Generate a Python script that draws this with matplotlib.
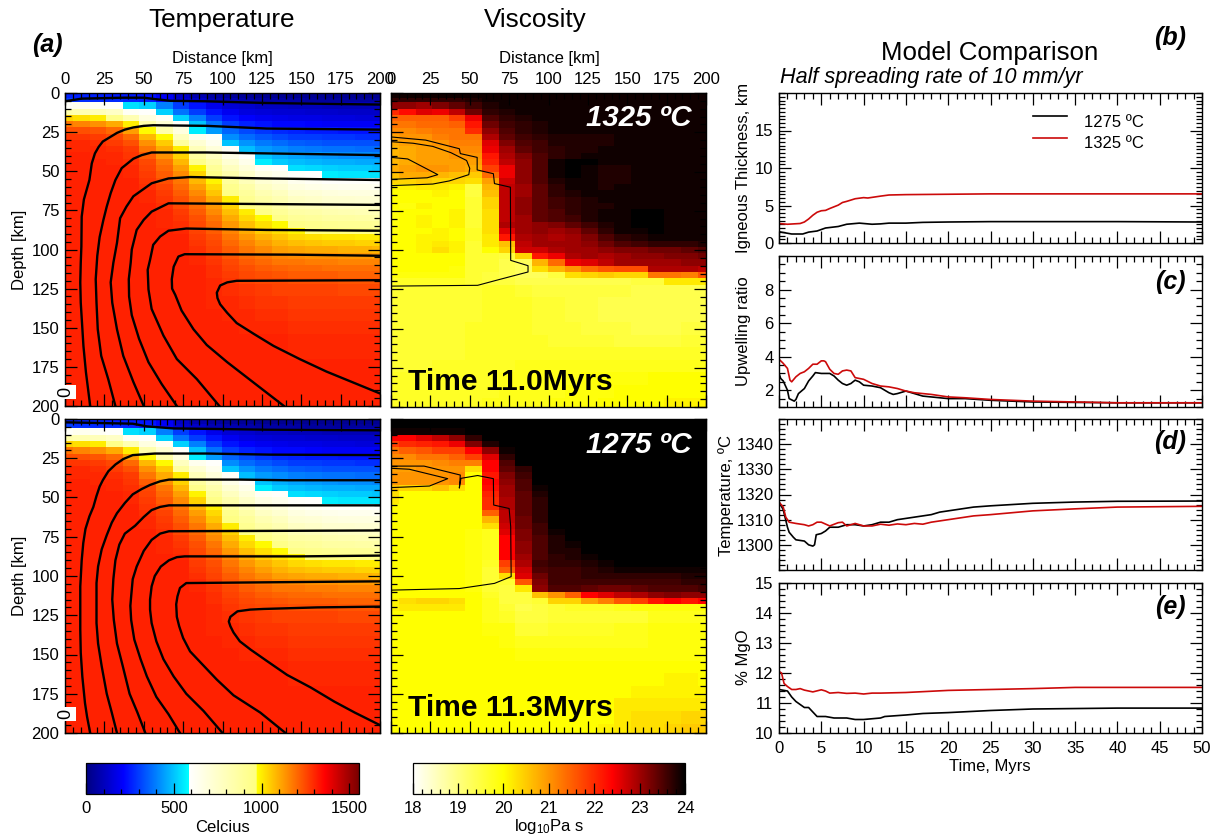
# Import needed libraries.
import numpy as np
import matplotlib
matplotlib.use('Agg')
import matplotlib.pyplot as plt
from matplotlib.cm import ScalarMappable
from matplotlib.colors import LinearSegmentedColormap, Normalize
from matplotlib.ticker import MultipleLocator

plt.rcParams['font.family'] = ['Liberation Sans', 'DejaVu Sans']
plt.rcParams['mathtext.default'] = 'regular'

W, H = 1228, 839
LABEL_SIZE = 12

# Model grid: 20 nodes across, depth rows refined near the surface.
DIST_NODES = [0, 10.5, 21, 31.6, 42, 52.6, 63, 73.7, 84, 94.7, 105, 115.8, 126, 136.8, 147, 157.9, 168.4, 178.9, 189.5, 200]
DEPTH_EDGES = [0, 3, 6, 10, 14, 18, 22, 26, 30, 34, 38, 42, 46, 50, 54, 58, 62, 66, 70, 74, 78, 82, 86, 90, 94, 98,
               102, 106, 110, 114, 118, 122, 130, 138, 146, 154, 162, 170, 178, 186, 194, 200]

# Temperature field, in tens of degrees C.
TEMP_FIELD = [
    [26, 26, 26, 25, 25, 24, 20, 12, 8, 6, 4, 4, 3, 3, 3, 3, 3, 3, 3, 3],
    [30, 28, 27, 27, 26, 25, 20, 14, 12, 9, 8, 7, 6, 6, 6, 5, 5, 5, 5, 5],
    [61, 64, 62, 60, 54, 52, 40, 30, 24, 18, 14, 13, 11, 11, 10, 10, 9, 9, 9, 9],
    [84, 82, 80, 76, 62, 60, 52, 38, 30, 24, 19, 16, 15, 14, 14, 13, 13, 12, 12, 12],
    [104, 102, 100, 94, 82, 68, 62, 52, 40, 30, 24, 21, 19, 18, 17, 17, 16, 16, 15, 15],
    [118, 116, 114, 110, 100, 84, 72, 60, 50, 38, 30, 26, 24, 22, 22, 21, 20, 20, 20, 20],
    [124, 124, 123, 120, 112, 98, 84, 68, 56, 44, 36, 32, 29, 27, 26, 25, 25, 24, 24, 24],
    [128, 128, 127, 125, 120, 108, 98, 78, 64, 60, 42, 37, 34, 32, 30, 30, 29, 29, 28, 28],
    [130, 130, 129, 127, 124, 114, 105, 88, 72, 64, 50, 43, 39, 37, 35, 34, 33, 33, 33, 33],
    [130, 130, 130, 129, 127, 118, 110, 100, 80, 70, 61, 49, 44, 42, 40, 39, 38, 38, 37, 37],
    [131, 131, 130, 130, 128, 122, 114, 104, 88, 78, 66, 60, 50, 47, 45, 44, 43, 42, 42, 41],
    [131, 131, 131, 130, 129, 125, 118, 108, 94, 84, 72, 65, 56, 51, 49, 48, 47, 47, 46, 46],
    [131, 131, 131, 131, 130, 126, 120, 112, 99, 90, 78, 70, 62, 60, 54, 53, 52, 51, 51, 50],
    [131, 131, 131, 131, 130, 127, 122, 115, 104, 95, 84, 75, 67, 64, 60, 59, 56, 55, 55, 55],
    [131, 131, 131, 131, 131, 128, 124, 118, 108, 99, 89, 80, 72, 69, 64, 62, 60, 60, 60, 60],
    [131, 131, 131, 131, 131, 129, 126, 120, 112, 103, 93, 85, 77, 73, 68, 66, 65, 64, 64, 63],
    [131, 131, 131, 131, 131, 130, 127, 122, 115, 106, 96, 89, 82, 78, 72, 71, 69, 68, 68, 68],
    [131, 131, 131, 131, 131, 130, 128, 124, 118, 110, 100, 92, 86, 82, 77, 75, 73, 73, 72, 72],
    [131, 131, 131, 131, 131, 131, 129, 125, 120, 113, 104, 96, 91, 86, 81, 80, 78, 77, 77, 76],
    [131, 131, 131, 131, 131, 131, 130, 127, 122, 115, 107, 100, 95, 90, 86, 85, 83, 82, 81, 81],
    [131, 131, 131, 131, 131, 131, 130, 128, 124, 118, 110, 103, 98, 95, 90, 89, 87, 87, 86, 85],
    [131, 131, 131, 131, 131, 131, 130, 129, 125, 120, 113, 107, 102, 98, 95, 93, 92, 91, 91, 90],
    [131, 131, 131, 131, 131, 131, 131, 130, 126, 122, 116, 110, 105, 102, 99, 97, 97, 96, 96, 95],
    [131, 131, 131, 131, 131, 131, 131, 131, 127, 124, 118, 113, 109, 106, 103, 102, 101, 101, 100, 100],
    [131, 131, 131, 131, 131, 131, 131, 131, 128, 125, 120, 116, 112, 109, 107, 106, 105, 105, 104, 104],
    [131, 131, 131, 131, 131, 131, 131, 131, 129, 126, 122, 118, 115, 112, 111, 110, 110, 109, 109, 108],
    [131, 131, 131, 131, 131, 131, 131, 131, 130, 127, 123, 120, 118, 116, 115, 114, 114, 113, 113, 112],
    [131, 131, 131, 131, 131, 131, 131, 131, 130, 128, 125, 122, 120, 118, 118, 117, 117, 116, 116, 116],
    [131, 131, 131, 131, 131, 131, 131, 131, 131, 129, 126, 124, 122, 121, 120, 120, 119, 119, 119, 119],
    [131, 131, 131, 131, 131, 131, 131, 131, 131, 129, 127, 125, 124, 123, 122, 122, 122, 121, 121, 121],
    [131, 131, 131, 131, 131, 131, 131, 131, 131, 130, 128, 126, 125, 125, 124, 124, 124, 123, 123, 123],
    [131, 131, 131, 131, 131, 131, 131, 131, 131, 130, 129, 128, 127, 126, 126, 126, 126, 125, 125, 125],
    [131, 131, 131, 131, 131, 131, 131, 131, 131, 130, 130, 129, 128, 128, 127, 127, 127, 127, 127, 127],
    [131, 131, 131, 131, 131, 131, 131, 131, 131, 131, 130, 130, 129, 129, 128, 128, 128, 128, 128, 128],
    [131, 131, 131, 131, 131, 131, 131, 131, 131, 131, 131, 130, 130, 130, 129, 129, 129, 129, 129, 129],
    [131, 131, 131, 131, 131, 131, 131, 131, 131, 131, 131, 131, 131, 131, 130, 130, 130, 130, 130, 130],
    [131, 131, 131, 131, 131, 131, 131, 131, 131, 131, 131, 131, 131, 131, 130, 130, 130, 130, 130, 130],
    [131, 131, 131, 131, 131, 131, 131, 131, 131, 131, 131, 131, 131, 131, 131, 131, 131, 131, 131, 131],
    [131, 131, 131, 131, 131, 131, 131, 131, 131, 131, 131, 131, 131, 131, 131, 131, 131, 131, 131, 131],
    [131, 131, 131, 131, 131, 131, 131, 131, 131, 131, 131, 131, 131, 131, 131, 131, 131, 131, 131, 131],
    [131, 131, 131, 131, 131, 131, 131, 131, 131, 131, 131, 131, 131, 131, 131, 131, 131, 131, 131, 131],
]

# Viscosity fields, log10 Pa s times ten.
VISC_1325 = [
    [239, 239, 239, 239, 239, 239, 239, 239, 239, 239, 239, 239, 239, 239, 239, 239, 239, 239, 239, 239],
    [237, 237, 237, 237, 237, 238, 239, 239, 239, 239, 239, 239, 239, 239, 239, 239, 239, 239, 239, 239],
    [231, 231, 230, 232, 234, 236, 238, 239, 239, 239, 239, 239, 239, 239, 239, 239, 239, 239, 239, 239],
    [220, 223, 226, 225, 228, 233, 237, 238, 239, 239, 239, 239, 239, 239, 239, 239, 239, 239, 239, 239],
    [215, 215, 215, 215, 218, 225, 235, 237, 238, 239, 239, 239, 239, 239, 239, 239, 239, 239, 239, 239],
    [213, 213, 214, 214, 215, 222, 233, 236, 237, 238, 239, 239, 239, 239, 239, 239, 239, 239, 239, 239],
    [211, 211, 212, 213, 213, 220, 231, 235, 237, 238, 239, 239, 239, 239, 239, 239, 239, 239, 239, 239],
    [209, 210, 210, 212, 213, 213, 229, 234, 236, 237, 238, 238, 238, 238, 239, 239, 239, 239, 239, 239],
    [208, 209, 209, 210, 212, 212, 226, 232, 235, 236, 238, 238, 238, 238, 239, 239, 239, 239, 239, 239],
    [207, 208, 209, 209, 211, 211, 225, 230, 234, 236, 237, 238, 238, 239, 239, 239, 239, 239, 239, 239],
    [207, 208, 209, 209, 210, 210, 222, 229, 232, 235, 237, 238, 239, 239, 239, 239, 239, 239, 239, 239],
    [207, 208, 209, 209, 209, 209, 221, 228, 231, 235, 239, 240, 240, 239, 239, 239, 239, 239, 239, 239],
    [208, 209, 210, 210, 209, 208, 218, 225, 231, 235, 239, 240, 239, 238, 238, 239, 239, 239, 239, 239],
    [206, 208, 208, 207, 206, 205, 214, 225, 231, 235, 239, 240, 239, 238, 238, 239, 239, 239, 239, 239],
    [204, 204, 205, 204, 204, 203, 209, 227, 231, 235, 238, 239, 239, 238, 238, 239, 239, 239, 239, 239],
    [201, 201, 202, 202, 201, 195, 207, 228, 230, 234, 237, 239, 239, 238, 239, 239, 239, 239, 239, 239],
    [200, 200, 200, 201, 200, 195, 206, 228, 230, 234, 237, 238, 239, 239, 239, 239, 239, 239, 239, 239],
    [200, 200, 200, 200, 200, 196, 204, 228, 231, 234, 236, 237, 238, 239, 239, 239, 239, 239, 239, 239],
    [200, 199, 201, 200, 200, 196, 204, 228, 231, 234, 236, 237, 238, 238, 239, 239, 239, 239, 239, 239],
    [199, 200, 200, 200, 201, 196, 203, 228, 231, 234, 235, 237, 238, 239, 239, 240, 240, 239, 239, 239],
    [199, 200, 201, 200, 201, 196, 203, 228, 230, 234, 235, 236, 238, 239, 239, 240, 240, 239, 239, 239],
    [199, 200, 201, 200, 201, 196, 203, 229, 230, 231, 232, 234, 236, 238, 239, 240, 240, 239, 239, 239],
    [199, 200, 200, 201, 200, 197, 203, 226, 230, 231, 230, 231, 234, 237, 239, 239, 240, 239, 239, 239],
    [200, 200, 201, 201, 200, 197, 202, 222, 229, 230, 229, 230, 232, 235, 237, 238, 239, 239, 239, 239],
    [200, 200, 201, 202, 201, 196, 202, 206, 228, 230, 230, 230, 231, 233, 235, 236, 237, 237, 237, 238],
    [200, 200, 201, 203, 201, 196, 200, 204, 227, 227, 229, 230, 230, 231, 232, 232, 233, 233, 234, 235],
    [200, 200, 200, 200, 200, 196, 196, 195, 204, 222, 225, 229, 230, 229, 230, 231, 231, 232, 232, 233],
    [200, 200, 200, 200, 200, 196, 196, 194, 193, 207, 214, 225, 226, 228, 230, 230, 230, 230, 231, 231],
    [200, 200, 200, 200, 199, 196, 196, 194, 193, 203, 207, 210, 214, 216, 217, 217, 229, 229, 229, 228],
    [199, 199, 199, 199, 199, 196, 195, 194, 193, 193, 195, 203, 204, 205, 204, 204, 213, 213, 212, 216],
    [197, 197, 197, 197, 197, 196, 195, 195, 194, 194, 194, 194, 194, 194, 194, 195, 195, 202, 202, 202],
    [196, 196, 196, 196, 196, 196, 197, 197, 196, 195, 195, 195, 195, 195, 195, 194, 194, 194, 194, 194],
    [196, 196, 196, 196, 196, 196, 197, 197, 197, 196, 196, 195, 195, 194, 194, 194, 194, 194, 194, 194],
    [196, 196, 196, 196, 196, 196, 197, 197, 197, 196, 196, 195, 195, 194, 194, 194, 194, 194, 194, 194],
    [196, 196, 196, 196, 196, 197, 197, 197, 197, 196, 196, 196, 195, 195, 195, 194, 194, 194, 195, 195],
    [196, 196, 196, 196, 196, 197, 197, 197, 197, 197, 196, 196, 196, 196, 195, 195, 195, 195, 196, 196],
    [196, 196, 196, 196, 196, 197, 197, 197, 197, 197, 197, 197, 197, 197, 197, 197, 197, 197, 197, 197],
    [196, 196, 196, 197, 197, 197, 197, 197, 198, 198, 198, 198, 198, 198, 198, 198, 198, 198, 198, 198],
    [197, 197, 197, 197, 197, 197, 197, 198, 198, 198, 198, 198, 199, 199, 199, 199, 200, 200, 200, 200],
    [197, 197, 197, 197, 197, 197, 197, 198, 198, 198, 198, 199, 199, 199, 200, 200, 200, 200, 200, 200],
    [197, 197, 197, 197, 197, 197, 198, 198, 198, 198, 199, 199, 199, 200, 200, 200, 200, 201, 201, 201],
]
VISC_1275 = [
    [240, 240, 240, 240, 240, 240, 240, 240, 240, 240, 240, 240, 240, 240, 240, 240, 240, 240, 240, 240],
    [240, 240, 240, 240, 240, 240, 240, 240, 240, 240, 240, 240, 240, 240, 240, 240, 240, 240, 240, 240],
    [239, 239, 239, 239, 239, 240, 240, 240, 240, 240, 240, 240, 240, 240, 240, 240, 240, 240, 240, 240],
    [224, 224, 226, 228, 231, 237, 240, 240, 240, 240, 240, 240, 240, 240, 240, 240, 240, 240, 240, 240],
    [218, 220, 221, 222, 225, 232, 238, 240, 240, 240, 240, 240, 240, 240, 240, 240, 240, 240, 240, 240],
    [213, 215, 216, 218, 218, 224, 231, 239, 240, 240, 240, 240, 240, 240, 240, 240, 240, 240, 240, 240],
    [211, 211, 213, 213, 215, 218, 226, 237, 240, 240, 240, 240, 240, 240, 240, 240, 240, 240, 240, 240],
    [210, 210, 210, 211, 212, 212, 224, 235, 240, 240, 240, 240, 240, 240, 240, 240, 240, 240, 240, 240],
    [209, 209, 210, 210, 210, 203, 224, 234, 237, 240, 240, 240, 240, 240, 240, 240, 240, 240, 240, 240],
    [210, 210, 210, 210, 211, 200, 222, 232, 236, 240, 240, 240, 240, 240, 240, 240, 240, 240, 240, 240],
    [210, 210, 210, 210, 211, 200, 224, 231, 235, 240, 240, 240, 240, 240, 240, 240, 240, 240, 240, 240],
    [206, 204, 204, 206, 203, 200, 223, 230, 235, 239, 240, 240, 240, 240, 240, 240, 240, 240, 240, 240],
    [203, 200, 200, 200, 200, 200, 221, 230, 234, 238, 240, 240, 240, 240, 240, 240, 240, 240, 240, 240],
    [202, 200, 200, 200, 200, 200, 220, 229, 234, 237, 240, 240, 240, 240, 240, 240, 240, 240, 240, 240],
    [200, 200, 200, 200, 200, 200, 220, 229, 234, 237, 240, 240, 240, 240, 240, 240, 240, 240, 240, 240],
    [200, 200, 200, 200, 200, 200, 215, 228, 234, 237, 240, 240, 240, 240, 240, 240, 240, 240, 240, 240],
    [200, 200, 200, 200, 200, 200, 207, 228, 233, 237, 240, 240, 240, 240, 240, 240, 240, 240, 240, 240],
    [200, 200, 200, 200, 200, 200, 203, 227, 233, 236, 240, 240, 240, 240, 240, 240, 240, 240, 240, 240],
    [200, 200, 200, 200, 200, 199, 198, 226, 232, 236, 239, 240, 240, 240, 240, 240, 240, 240, 240, 240],
    [200, 200, 200, 200, 200, 199, 198, 224, 232, 235, 238, 240, 240, 240, 240, 240, 240, 240, 240, 240],
    [200, 200, 200, 200, 200, 199, 198, 224, 231, 235, 238, 239, 240, 240, 240, 240, 240, 240, 240, 240],
    [200, 200, 200, 200, 200, 199, 198, 224, 231, 235, 238, 238, 240, 240, 240, 240, 240, 240, 240, 240],
    [200, 200, 200, 200, 200, 199, 198, 224, 230, 235, 237, 238, 239, 240, 240, 240, 240, 240, 240, 240],
    [200, 200, 200, 200, 200, 199, 197, 218, 229, 236, 237, 237, 238, 239, 240, 240, 240, 240, 240, 240],
    [200, 200, 200, 200, 200, 199, 196, 215, 227, 235, 236, 236, 237, 238, 239, 239, 239, 239, 239, 239],
    [200, 200, 200, 200, 200, 199, 196, 203, 226, 233, 236, 236, 237, 237, 237, 237, 237, 237, 238, 238],
    [200, 200, 200, 200, 200, 199, 196, 196, 216, 232, 236, 236, 236, 236, 236, 236, 236, 236, 237, 237],
    [200, 200, 200, 200, 200, 199, 196, 195, 202, 231, 235, 235, 234, 233, 233, 234, 235, 235, 235, 236],
    [200, 200, 200, 200, 200, 200, 197, 195, 195, 206, 210, 215, 224, 226, 228, 229, 231, 232, 231, 231],
    [201, 203, 204, 204, 203, 200, 198, 195, 195, 196, 204, 204, 209, 212, 216, 218, 222, 224, 222, 224],
    [201, 202, 202, 202, 202, 200, 198, 196, 194, 195, 196, 197, 197, 197, 198, 199, 199, 199, 199, 199],
    [200, 200, 200, 200, 200, 200, 198, 197, 195, 195, 196, 196, 196, 196, 196, 196, 198, 198, 198, 198],
    [200, 200, 200, 200, 200, 200, 199, 199, 196, 196, 197, 197, 197, 197, 198, 198, 199, 199, 199, 199],
    [200, 200, 200, 200, 200, 200, 200, 199, 198, 198, 198, 198, 198, 198, 198, 198, 199, 199, 199, 199],
    [200, 200, 200, 200, 200, 200, 200, 200, 199, 199, 199, 199, 199, 199, 199, 199, 199, 199, 199, 199],
    [200, 200, 200, 200, 200, 200, 200, 200, 200, 200, 200, 200, 200, 200, 200, 200, 200, 200, 200, 200],
    [200, 200, 200, 200, 200, 200, 200, 200, 200, 200, 200, 200, 200, 200, 200, 200, 200, 201, 201, 200],
    [200, 200, 200, 200, 200, 200, 200, 200, 200, 200, 200, 200, 200, 200, 200, 201, 201, 201, 201, 201],
    [200, 200, 200, 200, 200, 200, 200, 200, 200, 200, 200, 200, 200, 200, 202, 202, 202, 202, 202, 202],
    [200, 200, 200, 200, 200, 200, 200, 200, 200, 200, 200, 200, 200, 200, 202, 203, 203, 203, 204, 204],
    [200, 200, 200, 200, 200, 200, 200, 200, 200, 200, 200, 200, 200, 201, 202, 203, 203, 204, 205, 205],
]

# Isotherms, (distance, depth) in km.
ISOTHERMS_1325 = [
    ([0, 10.6, 37, 50, 58, 67, 90, 128, 200], [5.3, 3.6, 3, 3, 4, 5, 5.3, 6.4, 7.4]),
    ([16, 13.3, 11.7, 10.8, 10, 9.7, 10, 10.4, 10.6, 12, 15.5, 17, 19, 21.4, 24, 33, 38, 43.4, 50, 56, 90, 128, 200],
     [200, 178.5, 161.6, 146.9, 134, 121, 108.5, 98, 79, 68, 55.6, 45, 38.6, 34.4, 31, 25.5, 23.4, 22, 21, 20.6, 21, 22.7, 23.4]),
    ([32, 27.5, 23, 20.8, 20, 19.5, 20.5, 22, 24.4, 26.5, 29, 32, 36, 43.4, 48.7, 55, 90, 200],
     [200, 183, 168, 151, 134, 119, 104, 92, 81, 72.6, 64, 55.6, 48, 42, 39.7, 38, 38, 39.7]),
    ([50, 43.4, 37, 33, 30, 29, 30.7, 33, 35, 39, 43.4, 55, 65.7, 79.5, 128, 200],
     [200, 184.6, 168, 151, 134, 121, 108.5, 95.8, 80, 72.6, 66, 57.7, 54.6, 53.7, 54.6, 55.6]),
    ([71, 61.4, 53, 47, 42.4, 40.7, 40.5, 41.7, 42.4, 45.5, 50, 55, 65.7, 200],
     [200, 186, 172, 157, 142, 130, 119, 108.5, 100, 87.5, 81, 75.8, 70.5, 71.5]),
    ([98, 83.7, 71, 62.5, 55, 53, 52.5, 54, 56, 60.4, 65.7, 77, 128, 200],
     [200, 182.8, 170, 155, 138, 125.5, 113, 106.6, 97, 91.7, 88, 86.6, 87.5, 88]),
    ([139, 119.7, 103, 90, 81.6, 74, 70, 68, 67.8, 69, 72, 76, 145, 200],
     [200, 185, 172, 161, 151, 139, 129, 125, 119, 111, 104.5, 103, 103.3, 104]),
    ([200, 183, 166, 149, 132.4, 120, 109, 103, 98.5, 96.8, 96.4, 98.5, 103, 109, 200],
     [192, 185, 178, 170, 161.6, 154, 147, 140.5, 135, 131, 127.6, 123, 121, 120, 119.6]),
]
ISOTHERMS_1275 = [
    ([0, 43, 52, 69, 128, 200], [2.1, 3, 4.7, 6, 6.8, 7.2]),
    ([16, 14, 12.7, 11, 10, 9.7, 9.7, 9.7, 10.6, 11.6, 13, 15.5, 18, 20, 22, 24, 27.5, 32, 37, 43, 50, 57, 90, 130, 200],
     [200, 189.6, 181, 164, 149, 134, 121, 106.6, 90, 79, 70, 62, 56, 49, 43, 39, 33.3, 29, 25.5, 23, 22.5, 22, 22, 22.7, 23]),
    ([33, 29.7, 26.5, 23.3, 21, 20, 20, 20, 21, 23.3, 26.5, 29.7, 33, 38, 43, 48.7, 54, 60.4, 66, 111, 141, 200],
     [200, 187, 175, 157.5, 143, 130, 117, 104.5, 94, 83, 74, 66, 60, 53.5, 48, 44.6, 42, 39.7, 38.6, 38.6, 39, 39]),
    ([51, 46, 41, 36.7, 33, 31, 30, 30.7, 32, 34.5, 38, 44.5, 50, 55, 60.4, 66, 200],
     [200, 187, 175, 157.5, 143, 128, 115, 102, 90, 80, 73, 68, 62.4, 58, 56, 55, 55]),
    ([73, 65.7, 58, 52, 48, 44, 42, 41.5, 42, 43, 45.5, 50, 55, 60.4, 66, 200],
     [200, 188, 177, 164, 153, 140.5, 128, 119, 113, 102, 94, 84, 77, 73, 71.5, 71]),
    ([100, 88, 77, 69, 62.5, 58, 55, 54, 54, 55, 57, 60.8, 66, 71, 76, 149, 200],
     [200, 186, 175, 164, 153, 141.6, 130, 121.4, 115, 106.6, 100, 94, 90, 88, 87.5, 87.5, 87]),
    ([140, 124, 107, 96.4, 86, 79.4, 75, 72.5, 71, 70.6, 71.4, 73, 77, 130, 200],
     [200, 187, 176, 166, 155, 148, 139.5, 132, 126, 118, 113, 107.6, 104.5, 104, 103.4]),
    ([200, 184, 171, 156, 141, 128, 118, 111, 107, 105, 104, 105, 109.5, 117.6, 126, 160, 200],
     [195, 187, 180, 171, 163, 154, 147, 141.6, 136, 132, 129, 126, 122.5, 121.4, 121, 120, 119.5]),
]

# Melt region outlines on the viscosity panels, (distance, depth) in km.
MELT_1325 = [
    ([0, 22, 43.4, 44, 54.7, 54.7, 65, 65.7, 75.8, 76, 87, 87, 68, 55, 0],
     [28, 30, 35.5, 38.6, 41, 49, 51.4, 57.7, 60, 106.6, 110, 114, 119, 122.5, 123]),
    ([0, 14, 26.5, 38, 48, 50, 49.4, 37, 26.5, 0], [31, 32, 34, 38, 43, 48, 52, 56, 58, 59]),
    ([0, 10.6, 29.7, 23, 0], [41, 42, 52, 54, 55]),
]
MELT_1275 = [
    ([0, 21, 44, 43.4, 44.4, 55, 65, 65.2, 75, 76, 76.3, 65.7, 43.4, 0],
     [30, 30, 35.7, 44, 37.8, 36, 38, 54.8, 57, 68.6, 100.4, 104.7, 108, 109]),
    ([0, 11.6, 36, 24.4, 0], [31.4, 32, 38, 42.7, 43.7]),
]

# Time series, panels (b) to (e).
THICK_T_1275 = [0, 1, 1.5, 2.8, 3.5, 4.5, 5.5, 7, 8, 9.5, 11, 12, 13, 15, 17, 20, 25, 30, 40, 50]
THICK_1275 = [1.5, 1.3, 1.2, 1.2, 1.45, 1.6, 2.0, 2.2, 2.5, 2.65, 2.5, 2.55, 2.65, 2.65, 2.75, 2.8, 2.85, 2.85, 2.85, 2.8]
THICK_T_1325 = [0, 1, 2.5, 3, 3.5, 4, 4.5, 5, 5.5, 6, 7, 7.5, 8, 9, 10, 10.5, 12, 13, 15, 20, 25, 50]
THICK_1325 = [2.6, 2.5, 2.6, 2.8, 3.2, 3.7, 4.1, 4.3, 4.35, 4.6, 5.05, 5.4, 5.55, 5.9, 6.05, 6.0, 6.25, 6.4, 6.45, 6.5, 6.55, 6.55]

UPW_T_1275 = [0, 0.2, 0.5, 1, 1.2, 1.6, 1.8, 2, 2.3, 3, 3.5, 4, 4.3, 5, 6, 6.5, 7, 7.5, 8, 8.5, 9, 9.5, 10, 11, 12,
              12.5, 13, 13.5, 14, 15, 16, 17, 18, 20, 22, 25, 30, 40, 50]
UPW_1275 = [3.0, 2.7, 2.55, 2.0, 1.5, 1.4, 1.35, 1.45, 1.8, 2.1, 2.55, 2.85, 3.05, 3.0, 3.0, 2.85, 2.6, 2.4, 2.3, 2.4,
            2.6, 2.5, 2.3, 2.25, 2.15, 2.0, 1.85, 1.75, 1.8, 1.95, 1.8, 1.65, 1.6, 1.5, 1.5, 1.4, 1.3, 1.25, 1.25]
UPW_T_1325 = [0, 0.5, 1, 1.3, 1.5, 2, 2.5, 3, 3.5, 4, 4.5, 5, 5.3, 5.5, 6, 6.5, 7, 7.5, 8, 8.5, 9, 10, 11, 12, 13, 14,
              15, 16, 18, 20, 22, 25, 30, 40, 50]
UPW_1325 = [3.85, 3.6, 3.3, 2.6, 2.5, 2.8, 3.0, 3.1, 3.3, 3.55, 3.55, 3.75, 3.75, 3.7, 3.25, 3.0, 2.95, 3.15, 3.2, 3.15,
            2.75, 2.65, 2.4, 2.25, 2.2, 2.1, 1.95, 1.85, 1.75, 1.6, 1.55, 1.45, 1.35, 1.25, 1.25]

TEMP_T_1275 = [0, 0.5, 1, 1.2, 1.7, 2, 3, 3.5, 4, 4.2, 4.4, 5, 5.5, 6, 7, 8, 9, 10, 11, 12, 13, 14, 15, 16, 17, 18, 19,
               20, 21, 23, 25, 30, 35, 40, 50]
TEMP_1275 = [1317, 1314, 1307, 1305, 1303, 1302, 1301.5, 1300, 1299.5, 1300, 1304, 1304.5, 1305.5, 1307, 1307, 1308,
             1308, 1307.5, 1308, 1309, 1309, 1310, 1310.5, 1311, 1311.5, 1312, 1313, 1313.5, 1314, 1315, 1315.5,
             1316.5, 1317, 1317.3, 1317.4]
TEMP_T_1325 = [0, 0.5, 0.8, 1.2, 2, 3, 3.5, 4, 4.5, 5, 6, 7, 7.5, 8, 9, 10, 11, 12, 13, 14, 15, 16, 17, 18, 19, 20, 21,
               23, 25, 30, 35, 40, 50]
TEMP_1325 = [1317, 1315, 1311, 1309, 1308.5, 1308, 1307.5, 1308, 1309, 1309, 1307.5, 1308.8, 1309, 1307.5, 1308.5,
             1307.5, 1307.5, 1308.2, 1307.8, 1308.3, 1308, 1308.5, 1308.2, 1309, 1309.5, 1310, 1310.5, 1311.5, 1312,
             1313.5, 1314.3, 1315, 1315.3]

MGO_T_1275 = [0, 1, 1.5, 2, 2.5, 3, 3.5, 4, 4.5, 5, 5.5, 6.5, 8, 9, 10, 12, 12.5, 15, 17, 20, 25, 30, 40, 50]
MGO_1275 = [11.45, 11.4, 11.2, 11.05, 10.95, 10.85, 10.85, 10.7, 10.55, 10.55, 10.55, 10.5, 10.5, 10.45, 10.45, 10.5,
            10.55, 10.6, 10.65, 10.68, 10.75, 10.8, 10.83, 10.83]
MGO_T_1325 = [0, 0.3, 0.6, 1, 1.5, 2, 2.5, 3, 4, 5, 5.5, 6, 7, 8, 9, 10, 11, 12, 15, 20, 25, 30, 35, 50]
MGO_1325 = [12.05, 12.0, 11.65, 11.55, 11.45, 11.45, 11.48, 11.43, 11.37, 11.44, 11.4, 11.33, 11.35, 11.32, 11.33, 11.3,
            11.33, 11.33, 11.35, 11.42, 11.45, 11.48, 11.52, 11.52]

DIST_TICKS = [0, 25, 50, 75, 100, 125, 150, 175, 200]
TEMP_BAR_TICKS = [0, 500, 1000, 1500]
VISC_BAR_TICKS = [18, 19, 20, 21, 22, 23, 24]

RED = '#cc0a0a'

# Colour scales copied from the two colour bars.
temp_cmap = LinearSegmentedColormap.from_list('temp', [
    (0.0, '#000080'), (213 / 1553, '#0000ff'), (586 / 1553, '#00ffff'), (588 / 1553, '#ffffff'),
    (971 / 1553, '#ffff80'), (973 / 1553, '#ffff00'), (1360 / 1553, '#ff0000'), (1.0, '#7a0000')], N=1024)
visc_cmap = LinearSegmentedColormap.from_list('visc', [
    (0.0, '#ffffff'), (2 / 6, '#ffff00'), (4.4 / 6, '#ff0000'), (1.0, '#000000')], N=512)
temp_norm = Normalize(0, 1553)
visc_norm = Normalize(18, 24)


# Add an axes from pixel edges of the picture.
def add_axes(left, top, right, bottom):
    return fig.add_axes([left / W, 1 - bottom / H, (right - left) / W, (bottom - top) / H])


def put_text(x, y, s, **kw):
    kw.setdefault('ha', 'center')
    kw.setdefault('va', 'center')
    fig.text(x / W, 1 - y / H, s, **kw)


# Inward IDL style ticks on every side.
def style_ticks(ax, major=8.6, minor=4.3):
    ax.tick_params(which='major', direction='in', length=major, width=0.9, top=True, right=True,
                   labelsize=LABEL_SIZE, pad=4)
    ax.tick_params(which='minor', direction='in', length=minor, width=0.9, top=True, right=True)
    for s in ax.spines.values():
        s.set_linewidth(1.0)


def section_axes(left, top, right, bottom, field, cmap, norm):
    ax = add_axes(left, top, right, bottom)
    nodes = np.array(DIST_NODES, dtype=float)
    edges = np.concatenate(([0], (nodes[:-1] + nodes[1:]) / 2, [200]))
    ax.pcolormesh(edges, DEPTH_EDGES, field, cmap=cmap, norm=norm, shading='flat', rasterized=True)
    ax.set_xlim(0, 200)
    ax.set_ylim(200, 0)
    ax.set_xticks(DIST_TICKS)
    ax.set_yticks(DIST_TICKS)
    ax.xaxis.set_minor_locator(MultipleLocator(5))
    ax.yaxis.set_minor_locator(MultipleLocator(5))
    style_ticks(ax)
    ax.xaxis.set_ticks_position('both')
    ax.yaxis.set_ticks_position('both')
    return ax


fig = plt.figure(figsize=(W / 100, H / 100), dpi=100)

temp_grid = np.array(TEMP_FIELD) * 10.0
visc_top = np.array(VISC_1325) / 10.0
visc_bot = np.array(VISC_1275) / 10.0

# Temperature sections.
for top, bottom, lines, with_top in [(93, 406, ISOTHERMS_1325, True), (419, 733, ISOTHERMS_1275, False)]:
    ax = section_axes(65, top, 380, bottom, temp_grid, temp_cmap, temp_norm)
    for xs, zs in lines:
        ax.plot(xs, zs, color='black', lw=1.7, solid_joinstyle='round')
    ax.tick_params(labelbottom=False, labeltop=with_top, labelleft=True, labelright=False)

# White patched zero sitting on the lower left corner of each temperature panel.
put_text(66, 392, '0', rotation=90, fontsize=13, zorder=6,
         bbox=dict(facecolor='white', edgecolor='none', pad=1.0))
put_text(66, 714, '0', rotation=90, fontsize=13, zorder=6,
         bbox=dict(facecolor='white', edgecolor='none', pad=1.0))

# Viscosity sections.
for top, bottom, field, lines, with_top in [(93, 407, visc_top, MELT_1325, True), (419, 733, visc_bot, MELT_1275, False)]:
    ax = section_axes(391, top, 706, bottom, field, visc_cmap, visc_norm)
    for xs, zs in lines:
        ax.plot(xs, zs, color='black', lw=0.8)
    ax.tick_params(labelbottom=False, labeltop=with_top, labelleft=False, labelright=False)

# Colour bars.
cax = add_axes(86, 763, 358.7, 794)
cb = fig.colorbar(ScalarMappable(temp_norm, temp_cmap), cax=cax, orientation='horizontal', ticks=TEMP_BAR_TICKS)
cax.xaxis.set_minor_locator(MultipleLocator(100))
cax.tick_params(which='major', direction='in', length=8, width=0.9, labelsize=LABEL_SIZE, pad=5)
cax.tick_params(which='minor', direction='in', length=3.6, width=0.9)
cb.outline.set_linewidth(0.9)

cax = add_axes(412.7, 763, 685, 794)
cb = fig.colorbar(ScalarMappable(visc_norm, visc_cmap), cax=cax, orientation='horizontal', ticks=VISC_BAR_TICKS)
cax.xaxis.set_minor_locator(MultipleLocator(0.2))
cax.tick_params(which='major', direction='in', length=8, width=0.9, labelsize=LABEL_SIZE, pad=5)
cax.tick_params(which='minor', direction='in', length=3.6, width=0.9)
cb.outline.set_linewidth(0.9)

# Right hand time series panels.
right_panels = [
    (93, 243, (0, 20), [0, 5, 10, 15], 0.5, THICK_T_1275, THICK_1275, THICK_T_1325, THICK_1325),
    (256, 407, (1, 10), [2, 4, 6, 8], 0.5, UPW_T_1275, UPW_1275, UPW_T_1325, UPW_1325),
    (419, 570, (1290, 1350), [1300, 1310, 1320, 1330, 1340], 2, TEMP_T_1275, TEMP_1275, TEMP_T_1325, TEMP_1325),
    (583, 733, (10, 15), [10, 11, 12, 13, 14, 15], 0.2, MGO_T_1275, MGO_1275, MGO_T_1325, MGO_1325),
]
for i, (top, bottom, ylim, yticks, yminor, t_black, y_black, t_red, y_red) in enumerate(right_panels):
    ax = add_axes(779, top, 1202, bottom)
    ax.plot(t_black, y_black, color='black', lw=1.2)
    ax.plot(t_red, y_red, color=RED, lw=1.2)
    ax.set_xlim(0, 50)
    ax.set_ylim(*ylim)
    ax.set_yticks(yticks)
    ax.xaxis.set_major_locator(MultipleLocator(5))
    ax.xaxis.set_minor_locator(MultipleLocator(1))
    ax.yaxis.set_minor_locator(MultipleLocator(yminor))
    style_ticks(ax)
    ax.tick_params(labelbottom=(i == 3))
    if i == 3:
        ax.tick_params(axis='x', which='major', pad=5.5)
    if i == 0:
        ax.plot([30, 34], [17.0, 17.0], color='black', lw=1.2)
        ax.plot([30, 34], [14.0, 14.0], color=RED, lw=1.2)
        ax.text(36, 16.1, '1275 ºC', fontsize=LABEL_SIZE, va='center')
        ax.text(36, 13.2, '1325 ºC', fontsize=LABEL_SIZE, va='center')

put_text(20, 250, 'Depth [km]', rotation=90, fontsize=LABEL_SIZE)
put_text(20, 576, 'Depth [km]', rotation=90, fontsize=LABEL_SIZE)
put_text(743, 168, 'Igneous Thickness, km', rotation=90, fontsize=LABEL_SIZE)
put_text(743, 331, 'Upwelling ratio', rotation=90, fontsize=LABEL_SIZE)
put_text(726, 495, 'Temperature, ºC', rotation=90, fontsize=LABEL_SIZE)
put_text(743, 657, '% MgO', rotation=90, fontsize=LABEL_SIZE)
put_text(990, 767, 'Time, Myrs', fontsize=LABEL_SIZE)

# Titles, panel letters and annotations.
put_text(222, 20, 'Temperature', fontsize=18.8)
put_text(535, 20, 'Viscosity', fontsize=18.8)
put_text(990, 53, 'Model Comparison', fontsize=18.6)
put_text(780, 78, 'Half spreading rate of 10 mm/yr', fontsize=15.6, style='italic', ha='left')
put_text(222, 59, 'Distance [km]', fontsize=LABEL_SIZE)
put_text(549, 59, 'Distance [km]', fontsize=LABEL_SIZE)
put_text(47, 45, '(a)', fontsize=18, weight='bold', style='italic')
put_text(1170, 38, '(b)', fontsize=18, weight='bold', style='italic')
put_text(1170, 282, '(c)', fontsize=18, weight='bold', style='italic')
put_text(1170, 442, '(d)', fontsize=18, weight='bold', style='italic')
put_text(1170, 607, '(e)', fontsize=18, weight='bold', style='italic')
put_text(692, 118, '1325 ºC', fontsize=21.2, weight='bold', style='italic', color='white', ha='right')
put_text(692, 445, '1275 ºC', fontsize=21.2, weight='bold', style='italic', color='white', ha='right')
put_text(408, 382, 'Time 11.0Myrs', fontsize=21.6, weight='bold', ha='left')
put_text(408, 708, 'Time 11.3Myrs', fontsize=21.6, weight='bold', ha='left')
put_text(222, 827, 'Celcius', fontsize=LABEL_SIZE)
put_text(549, 827, 'log$_{10}$Pa s', fontsize=LABEL_SIZE)

plt.savefig('out.png', dpi=100)
plt.close()
